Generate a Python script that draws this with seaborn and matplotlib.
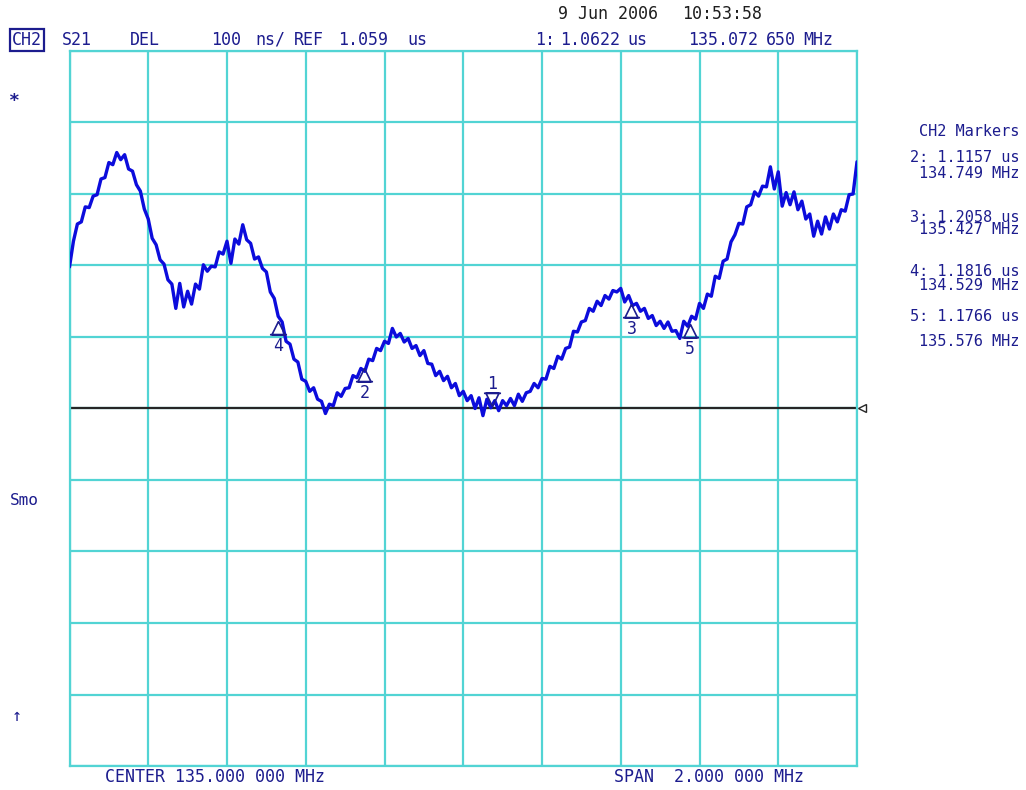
import numpy as np
import pandas as pd
import seaborn as sns
import matplotlib.pyplot as plt
from matplotlib.path import Path
from matplotlib.transforms import offset_copy

# ---- instrument settings ----
START_MHZ = 134.0
STOP_MHZ = 136.0
REF_US = 1.059
SCALE_US = 0.100          # per division
N_DIV = 10

# ---- CH2 S21 group delay trace (us), one value per sweep point ----
delay_us = [
    1.257, 1.293, 1.317, 1.320, 1.341, 1.340, 1.356, 1.358, 1.380, 1.382,
    1.403, 1.400, 1.417, 1.407, 1.414, 1.394, 1.391, 1.372, 1.363, 1.338,
    1.324, 1.297, 1.288, 1.267, 1.261, 1.239, 1.233, 1.199, 1.234, 1.201,
    1.223, 1.205, 1.233, 1.226, 1.260, 1.251, 1.258, 1.257, 1.278, 1.275,
    1.293, 1.262, 1.296, 1.289, 1.316, 1.295, 1.290, 1.268, 1.271, 1.255,
    1.250, 1.222, 1.213, 1.188, 1.180, 1.153, 1.149, 1.128, 1.124, 1.100,
    1.097, 1.083, 1.088, 1.072, 1.069, 1.052, 1.065, 1.063, 1.081, 1.076,
    1.087, 1.088, 1.105, 1.102, 1.115, 1.111, 1.128, 1.126, 1.143, 1.140,
    1.153, 1.150, 1.171, 1.159, 1.164, 1.152, 1.157, 1.143, 1.147, 1.133,
    1.140, 1.122, 1.121, 1.105, 1.111, 1.098, 1.104, 1.088, 1.094, 1.077,
    1.083, 1.070, 1.077, 1.059, 1.074, 1.049, 1.072, 1.060, 1.070, 1.056,
    1.070, 1.063, 1.073, 1.063, 1.079, 1.069, 1.081, 1.083, 1.094, 1.088,
    1.101, 1.100, 1.118, 1.115, 1.132, 1.128, 1.143, 1.145, 1.167, 1.166,
    1.180, 1.182, 1.199, 1.195, 1.209, 1.203, 1.217, 1.212, 1.224, 1.222,
    1.227, 1.208, 1.217, 1.203, 1.206, 1.195, 1.199, 1.185, 1.189, 1.175,
    1.181, 1.171, 1.180, 1.167, 1.168, 1.157, 1.181, 1.174, 1.188, 1.184,
    1.206, 1.199, 1.219, 1.216, 1.244, 1.241, 1.265, 1.268, 1.292, 1.302,
    1.318, 1.317, 1.341, 1.344, 1.362, 1.356, 1.370, 1.369, 1.397, 1.366,
    1.390, 1.342, 1.361, 1.344, 1.362, 1.337, 1.349, 1.324, 1.331, 1.300,
    1.321, 1.303, 1.327, 1.310, 1.331, 1.320, 1.337, 1.335, 1.358, 1.359,
    1.404,
]

# ---- markers ----
marker_ids = ["1", "2", "3", "4", "5"]
marker_mhz = [135.07265, 134.749, 135.427, 134.529, 135.576]
marker_us = [1.0622, 1.1157, 1.2058, 1.1816, 1.1766]

# ---- text blocks ----
marker_table = [
    "CH2 Markers",
    "2: 1.1157 us", "134.749 MHz",
    "3: 1.2058 us", "135.427 MHz",
    "4: 1.1816 us", "134.529 MHz",
    "5: 1.1766 us", "135.576 MHz",
]

freq_mhz = np.linspace(START_MHZ, STOP_MHZ, len(delay_us))
trace = pd.DataFrame({"freq": freq_mhz, "delay": delay_us})

NAVY = "#1c1c8e"
GRID = "#52d4d4"
TRACE = "#0c0cdc"

sns.set_theme(style="white")
plt.rcParams["font.family"] = ["DejaVu Sans Mono", "DejaVu Sans"]

W, H = 1026, 790
fig = plt.figure(figsize=(W / 100, H / 100), dpi=100, facecolor="white")


def fx(x):
    return x / W


def fy(y):
    return 1 - y / H


ax = fig.add_axes([fx(69.5), fy(766), 787.5 / W, 715 / H])
ax.set_facecolor("white")

bottom = REF_US - SCALE_US * N_DIV / 2
top = REF_US + SCALE_US * N_DIV / 2
ax.set_xlim(START_MHZ, STOP_MHZ)
ax.set_ylim(bottom, top)
ax.set_xticks(np.linspace(START_MHZ, STOP_MHZ, N_DIV + 1))
ax.set_yticks(np.linspace(bottom, top, N_DIV + 1))
ax.set_xticklabels([])
ax.set_yticklabels([])
ax.tick_params(length=0)
ax.grid(True, color=GRID, lw=1.6, zorder=0)
for s in ax.spines.values():
    s.set_color(GRID)
    s.set_linewidth(1.6)

# reference line
ax.axhline(REF_US, color="#262626", lw=1.6, zorder=2)
ref_tr = offset_copy(ax.transData, fig=fig, x=5, y=0, units="dots")
ax.plot([STOP_MHZ], [REF_US], marker="<", ms=6, mfc="white", mec="#262626",
        mew=1.0, transform=ref_tr, clip_on=False, zorder=5)

# trace
sns.lineplot(data=trace, x="freq", y="delay", ax=ax, color=TRACE, lw=2.4,
             estimator=None, sort=False, zorder=3)
ax.set_xlabel("")
ax.set_ylabel("")

# marker symbols: apex sits on the trace value
up_path = Path([(0, 0), (-0.42, -0.85), (0.42, -0.85), (0, 0), (-0.55, -0.85), (0.55, -0.85)],
               [Path.MOVETO, Path.LINETO, Path.LINETO, Path.LINETO, Path.MOVETO, Path.LINETO])
down_path = Path([(0, 0), (-0.42, 0.85), (0.42, 0.85), (0, 0), (-0.55, 0.85), (0.55, 0.85)],
                 [Path.MOVETO, Path.LINETO, Path.LINETO, Path.LINETO, Path.MOVETO, Path.LINETO])

for mid, mf, md in zip(marker_ids, marker_mhz, marker_us):
    active = mid == "1"
    ax.plot([mf], [md], marker=down_path if active else up_path, ms=19,
            mfc="none", mec=NAVY, mew=1.2, ls="none", zorder=4)
    ax.annotate(mid, (mf, md), xytext=(0, 16 if active else -18),
                textcoords="offset points", ha="center", va="center",
                color=NAVY, fontsize=12, zorder=4)

# header line
fig.text(fx(12), fy(40), "CH2", color=NAVY, fontsize=12, va="center", ha="left",
         bbox=dict(boxstyle="square,pad=0.12", fc="none", ec=NAVY, lw=1.6))
for x, s in [(62, "S21"), (130, "DEL"), (211, "100"), (255, "ns/"), (294, "REF"),
             (338, "1.059"), (407, "us"), (535, "1:"), (560, "1.0622"), (627, "us"),
             (688, "135.072"), (766, "650"), (803, "MHz")]:
    fig.text(fx(x), fy(40), s, color=NAVY, fontsize=12, va="center", ha="left")

fig.text(fx(558), fy(14), "9 Jun 2006", color="#1e1e1e", fontsize=12, va="center", ha="left")
fig.text(fx(682), fy(14), "10:53:58", color="#1e1e1e", fontsize=12, va="center", ha="left")

# left annotations
fig.text(fx(14), fy(101), "*", color=NAVY, fontsize=13, va="center", ha="center", fontweight="bold")
fig.text(fx(10), fy(500), "Smo", color=NAVY, fontsize=11.5, va="center", ha="left")
fig.text(fx(17), fy(716), "\u2191", color=NAVY, fontsize=12, va="center", ha="center")

# marker table on the right
table_y = [131, 158, 173, 217, 230, 271, 286, 317, 342]
for yy, s in zip(table_y, marker_table):
    fig.text(fx(1019), fy(yy), s, color=NAVY, fontsize=11, va="center", ha="right")

# footer
fig.text(fx(105), fy(777), "CENTER 135.000 000 MHz", color=NAVY, fontsize=12, va="center", ha="left")
fig.text(fx(614), fy(777), "SPAN  2.000 000 MHz", color=NAVY, fontsize=12, va="center", ha="left")

fig.savefig("out.png", dpi=100, facecolor="white")
